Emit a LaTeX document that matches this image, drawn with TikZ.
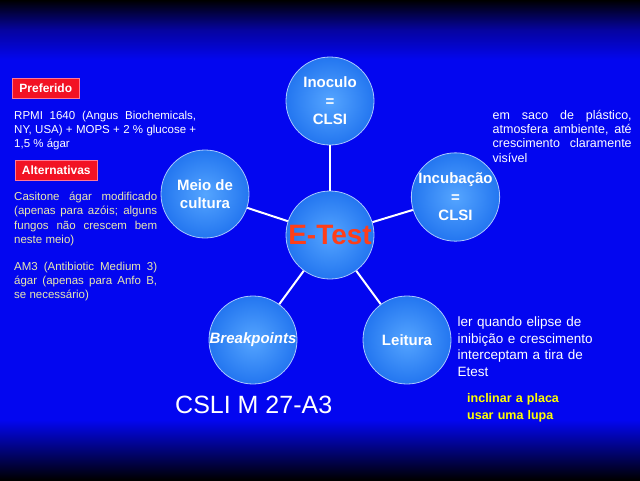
\documentclass[tikz,border=0pt]{standalone}
\usepackage{fontspec}
\setmainfont{Liberation Sans}
\definecolor{mainblue}{RGB}{3,6,240}
\definecolor{topdark}{RGB}{10,0,40}
\definecolor{bubin}{RGB}{85,165,255}
\definecolor{bubout}{RGB}{35,118,240}
\definecolor{bubedge}{RGB}{170,200,255}
\definecolor{tagred}{RGB}{242,18,36}
\definecolor{tagedge}{RGB}{255,120,150}
\definecolor{cream}{RGB}{232,232,175}
\definecolor{etestred}{RGB}{255,62,25}
\definecolor{hiyellow}{RGB}{255,255,0}
\begin{document}
\begin{tikzpicture}[x=1pt,y=-1pt,
  bub/.style={circle, minimum size=88pt, inner sep=0pt, shade, inner color=bubin,
    outer color=bubout, draw=bubedge, line width=0.8pt, text=white,
    font=\fontsize{15}{18.5}\selectfont\bfseries, align=center},
  conn/.style={white, line width=2pt},
  tag/.style={fill=tagred, draw=tagedge, line width=0.6pt, text=white,
    font=\fontsize{12}{14}\selectfont\bfseries, minimum height=20pt, inner sep=0pt,
    anchor=north west},
  para/.style={text=white, inner sep=0pt, anchor=base west, align=justify}
]
\useasboundingbox (0,0) rectangle (640,480);
% background
\fill[mainblue] (0,0) rectangle (640,480);
\shade[top color=black, bottom color=mainblue, middle color=topdark!40!mainblue] (0,0) rectangle (640,60);
\shade[top color=mainblue, bottom color=black] (0,420) rectangle (640,480);

% bubbles
\node[bub] (inoc) at (330,101) {Inoculo\\=\\CLSI};
\node[bub] (meio) at (205,194) {Meio de\\cultura};
\node[bub] (incub) at (455.5,197) {Incubação\\=\\CLSI};
\node[bub, font=\fontsize{15}{18.5}\selectfont\bfseries\itshape] (brk) at (253,340) {Breakpoints};
\node[bub] (leit) at (407,340) {Leitura};
\node[bub, text=etestred, font=\fontsize{28}{30}\selectfont\bfseries] (etest) at (330,235) {E-Test};

% connectors
\draw[conn] (etest) -- (inoc);
\draw[conn] (etest) -- (meio);
\draw[conn] (etest) -- (incub);
\draw[conn] (etest) -- (brk);
\draw[conn] (etest) -- (leit);

% left texts
\node[tag, minimum width=67pt] (pref) at (12,78) {Preferido};
\node[tag, minimum width=82pt] (alt) at (15,160) {Alternativas};
\node[para, text width=182pt, font=\fontsize{11.5}{14.3}\selectfont] (rpmi) at (14,119)
  {RPMI 1640 (Angus Biochemicals,\linebreak NY, USA) + MOPS + 2 \% glucose +\linebreak 1,5 \% ágar};
\node[para, text=cream, text width=143pt, font=\fontsize{11.5}{14.5}\selectfont] (casi) at (14,200)
  {Casitone ágar modificado\linebreak (apenas para azóis; alguns\linebreak fungos não crescem bem\linebreak neste meio)};
\node[para, text=cream, text width=143pt, font=\fontsize{11.5}{14}\selectfont] (am3) at (14,270)
  {AM3 (Antibiotic Medium 3)\linebreak ágar (apenas para Anfo B,\linebreak se necessário)};

% right texts
\node[para, text width=139pt, font=\fontsize{12.5}{14.2}\selectfont] (saco) at (492.5,119.5)
  {em saco de plástico,\linebreak atmosfera ambiente, até\linebreak crescimento claramente\linebreak visível};
\node[para, align=left, text width=150pt, font=\fontsize{13.5}{16.5}\selectfont] (ler) at (457.5,326.5)
  {ler quando elipse de\\inibição e crescimento\\interceptam a tira de\\Etest};
\node[para, align=left, text width=120pt, text=hiyellow, font=\fontsize{12.5}{17}\selectfont\bfseries] (incl) at (467,402)
  {inclinar a placa\\usar uma lupa};
\node[para, font=\fontsize{25}{30}\selectfont] (csli) at (175,413) {CSLI M 27-A3};
\end{tikzpicture}
\end{document}
